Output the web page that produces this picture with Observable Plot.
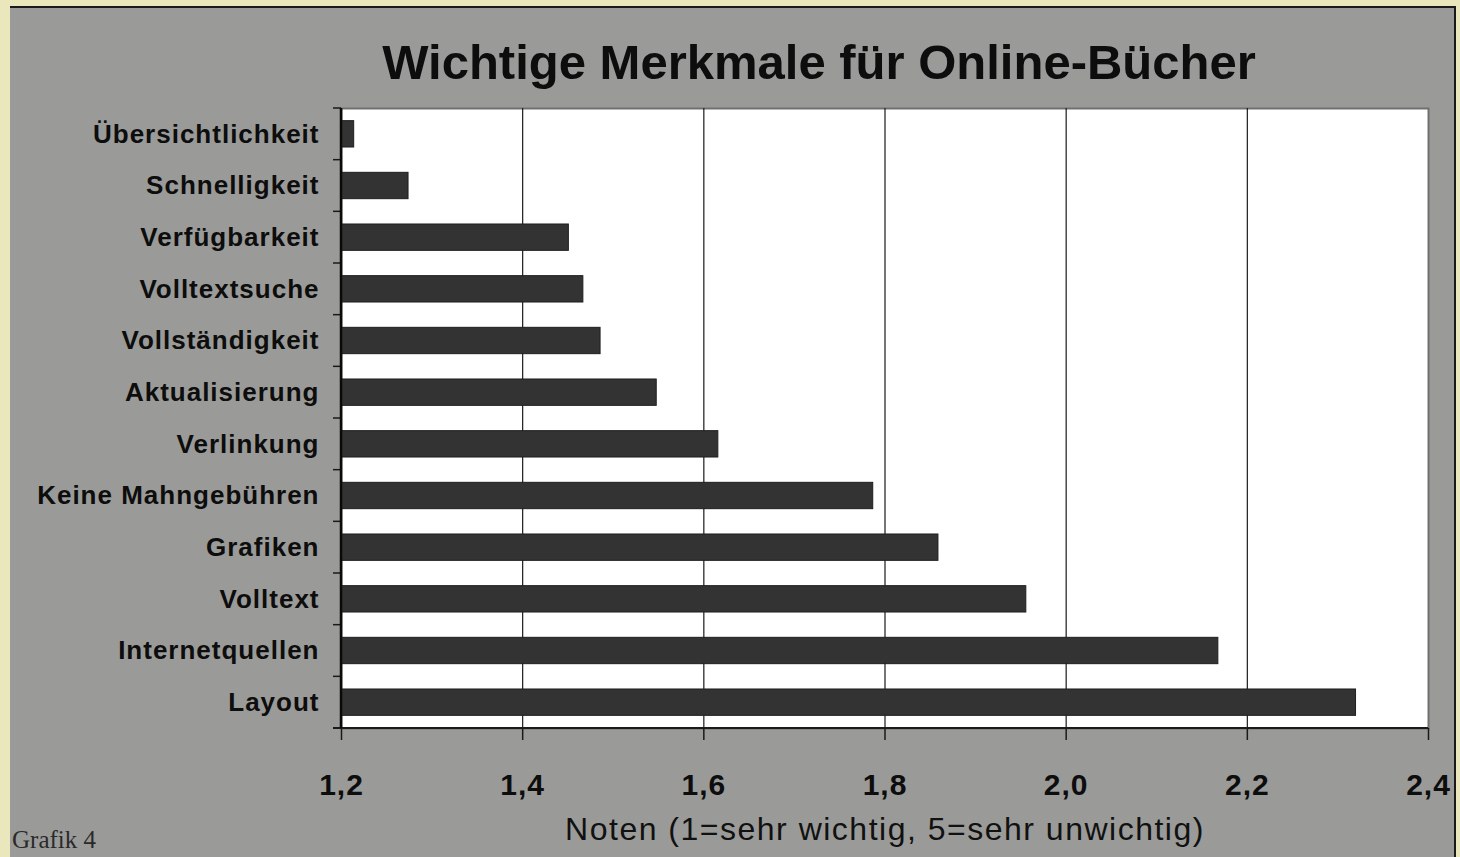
<!DOCTYPE html>
<html><head><meta charset="utf-8">
<script src="https://cdn.jsdelivr.net/npm/d3@7"></script>
<script src="https://cdn.jsdelivr.net/npm/@observablehq/plot@0.6"></script>
<style>
body{margin:0;}
#page{position:relative;width:1460px;height:857px;background:#e9e7bb;overflow:hidden;font-family:"Liberation Sans",Arial,sans-serif;}
#panel{position:absolute;left:10px;top:6px;width:1446px;height:851px;background:#9a9b98;border-top:2px solid #1a1a1a;border-right:2px solid #1a1a1a;box-sizing:border-box;}
#title{position:absolute;left:89px;top:38px;width:1460px;text-align:center;font-size:49px;line-height:49px;font-weight:bold;color:#0d0d0d;white-space:nowrap;}
#chart{position:absolute;left:0;top:90px;}
#xlabel{position:absolute;left:155px;top:813px;width:1460px;text-align:center;font-size:32px;line-height:32px;letter-spacing:1.5px;color:#111;white-space:nowrap;}
#caption{position:absolute;left:12px;top:827px;font-family:"Liberation Serif","DejaVu Serif",serif;font-size:25px;line-height:25px;color:#2a2a2a;}
</style>
</head><body>
<div id="page">
  <div id="panel"></div>
  <div id="title"></div>
  <div id="chart"></div>
  <div id="xlabel"></div>
  <div id="caption"></div>
</div>
<script>
const titleText = "Wichtige Merkmale für Online-Bücher";
const xLabelText = "Noten (1=sehr wichtig, 5=sehr unwichtig)";
const captionText = "Grafik 4";
const categories = ["Übersichtlichkeit","Schnelligkeit","Verfügbarkeit","Volltextsuche","Vollständigkeit","Aktualisierung","Verlinkung","Keine Mahngebühren","Grafiken","Volltext","Internetquellen","Layout"];
const values = [1.214,1.274,1.451,1.467,1.486,1.548,1.616,1.787,1.859,1.956,2.168,2.320];
const xDomain = [1.2, 2.4];
const xTicks = [1.2, 1.4, 1.6, 1.8, 2.0, 2.2, 2.4];
const gridTicks = [1.4, 1.6, 1.8, 2.0, 2.2];

document.getElementById("title").textContent = titleText;
document.getElementById("xlabel").textContent = xLabelText;
document.getElementById("caption").textContent = captionText;

const data = categories.map((c, i) => ({name: c, value: values[i]}));
const padInner = 0.49;

function boundaryTicks(index, scales, channels, dims) {
  const {marginTop, marginBottom, marginLeft, marginRight, height, width} = dims;
  const step = (height - marginTop - marginBottom) / categories.length;
  const g = d3.create("svg:g");
  for (let i = 0; i <= categories.length; i++) {
    const yy = marginTop + i * step;
    g.append("line").attr("x1", marginLeft - 8).attr("x2", marginLeft).attr("y1", yy).attr("y2", yy)
      .attr("stroke", "#1a1a1a").attr("stroke-width", 1.5);
  }
  const x0 = scales.x(xDomain[0]);
  g.append("line").attr("x1", marginLeft - 8).attr("x2", width - marginRight)
    .attr("y1", height - marginBottom).attr("y2", height - marginBottom)
    .attr("stroke", "#1a1a1a").attr("stroke-width", 2);
  g.append("line").attr("x1", x0).attr("x2", x0)
    .attr("y1", marginTop).attr("y2", height - marginBottom)
    .attr("stroke", "#0a0a0a").attr("stroke-width", 2.5);
  return g.node();
}

const chart = Plot.plot({
  width: 1460,
  height: 767,
  marginTop: 18,
  marginBottom: 129,
  marginLeft: 341,
  marginRight: 32,
  style: {background: "none", overflow: "visible", fontFamily: "'Liberation Sans', Arial, sans-serif", color: "#0d0d0d", letterSpacing: "1px"},
  x: {domain: xDomain, label: null},
  y: {domain: categories, paddingInner: padInner, paddingOuter: padInner / 2, round: false, label: null},
  marks: [
    Plot.frame({fill: "white", stroke: "#707070", strokeWidth: 2}),
    Plot.ruleX(gridTicks, {stroke: "#1a1a1a", strokeWidth: 1.2}),
    Plot.barX(data, {x1: () => xDomain[0], x2: "value", y: "name", fill: "#333333", stroke: "#1e1e1e", strokeWidth: 1}),
    boundaryTicks,
    Plot.axisX({ticks: xTicks, tickFormat: d => d.toFixed(1).replace(".", ","), tickSize: 12, tickPadding: 33, fontSize: 30, fontWeight: "bold", stroke: "#1a1a1a", strokeWidth: 1.5, label: null}),
    Plot.axisY({tickSize: 0, tickPadding: 22, fontSize: 26, fontWeight: "bold", label: null})
  ]
});
document.getElementById("chart").appendChild(chart);
</script>
</body></html>
